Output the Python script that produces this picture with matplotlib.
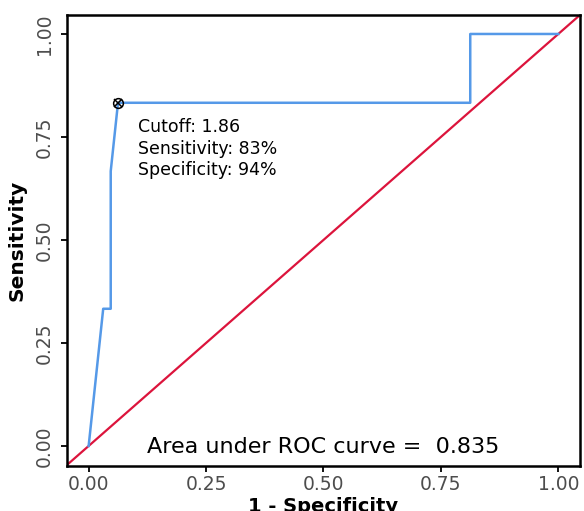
import matplotlib
matplotlib.use("Agg")
import matplotlib.pyplot as plt

# ROC curve data (1 - specificity, sensitivity)
fpr = [0.0, 0.031, 0.047, 0.047, 0.0625, 0.8125, 0.8125, 1.0]
tpr = [0.0, 0.333, 0.333, 0.667, 0.833, 0.833, 1.0, 1.0]
best_fpr = 0.0625
best_tpr = 0.833
cutoff_lines = ["Cutoff: 1.86", "Sensitivity: 83%", "Specificity: 94%"]
auc_label = "Area under ROC curve =  0.835"
ticks = [0.0, 0.25, 0.5, 0.75, 1.0]
tick_labels = ["0.00", "0.25", "0.50", "0.75", "1.00"]

fig = plt.figure(figsize=(5.84, 5.11), dpi=100)
ax = fig.add_axes([0.114, 0.0886, 0.879, 0.882])

ax.set_xlim(-0.047, 1.046)
ax.set_ylim(-0.048, 1.046)

# diagonal reference line, corner to corner
ax.plot([-0.05, 1.05], [-0.05, 1.05], color="#dc143c", lw=1.6, zorder=2)
ax.plot(fpr, tpr, color="#5599e8", lw=1.8, zorder=3)
ax.plot([best_fpr], [best_tpr], marker="o", ms=7, mfc="none", mec="black", mew=1.1, zorder=4)
ax.plot([best_fpr], [best_tpr], marker="x", ms=6, mec="black", mew=1.1, zorder=4)

ys = [0.763, 0.709, 0.658]
for s, y in zip(cutoff_lines, ys):
    ax.text(0.105, y, s, fontsize=12.5, ha="left", va="baseline", color="black")

ax.text(0.5, -0.017, auc_label, fontsize=16, ha="center", va="baseline", color="black")

ax.set_xticks(ticks)
ax.set_xticklabels(tick_labels)
ax.set_yticks(ticks)
ax.set_yticklabels(tick_labels, rotation=90, va="center")
ax.tick_params(axis="both", labelsize=13.5, labelcolor="#4d4d4d", color="black",
               length=4, width=1.3)
ax.tick_params(axis="x", pad=3)
ax.tick_params(axis="y", pad=5)

for sp in ax.spines.values():
    sp.set_linewidth(1.8)
    sp.set_color("black")

ax.set_xlabel("1 - Specificity", fontsize=14, fontweight="bold", labelpad=2)
ax.set_ylabel("Sensitivity", fontsize=14.5, fontweight="bold", labelpad=6)

fig.savefig("out.png", dpi=100, facecolor="white")
